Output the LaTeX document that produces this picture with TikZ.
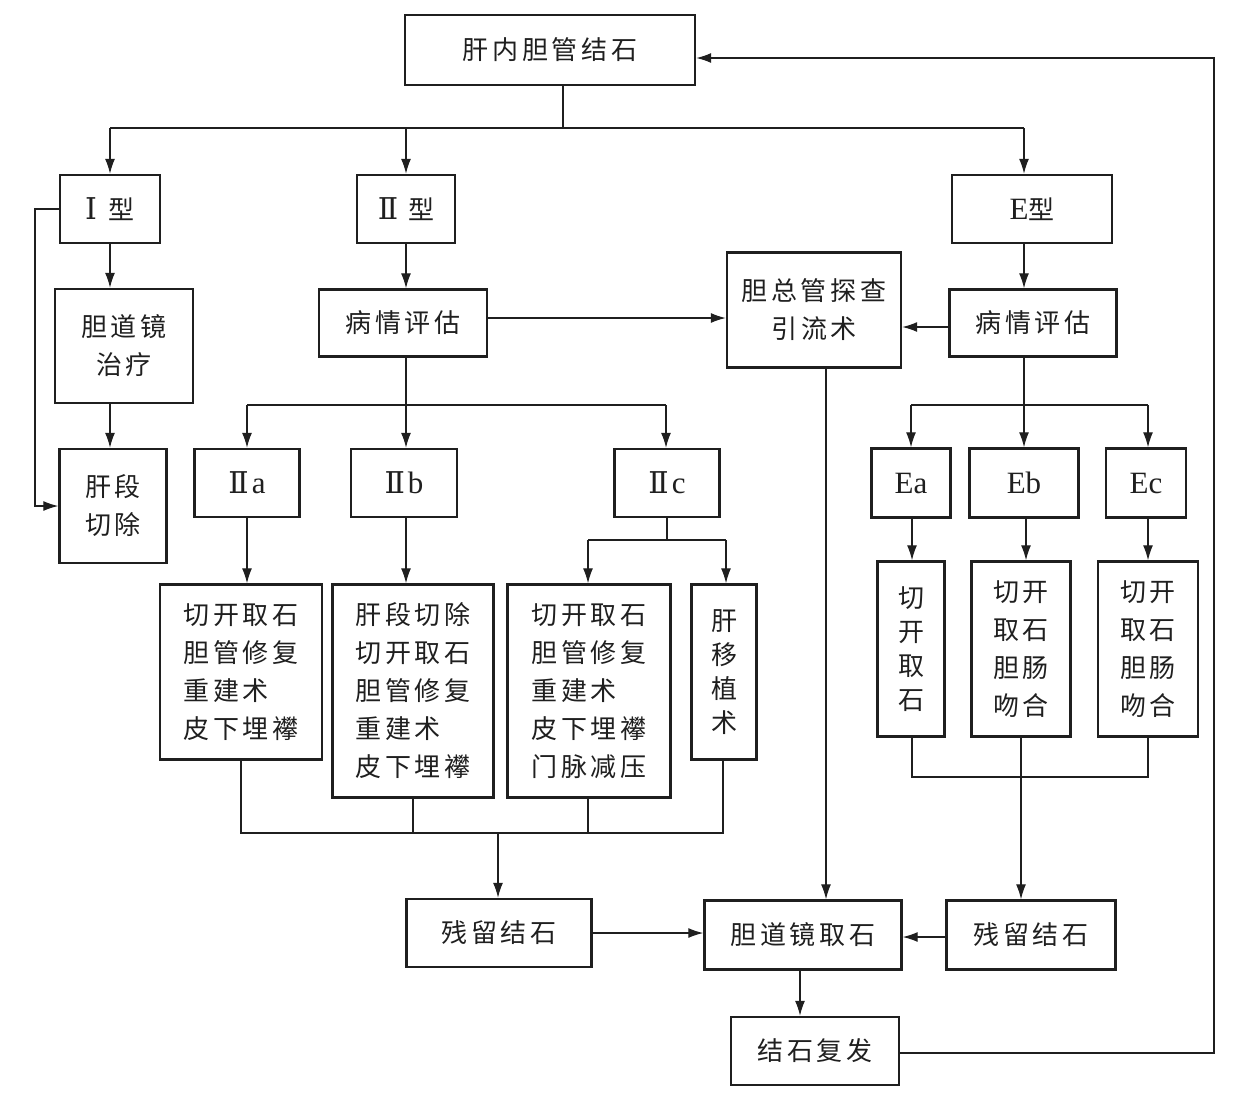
\documentclass[tikz,border=0pt]{standalone}
\usepackage{fontspec}
\setmainfont{Liberation Serif}
\newfontfamily\cjk{Noto Sans CJK SC}[LetterSpace=15]
\newfontfamily\lat{Liberation Serif}
\newfontfamily\rom{DejaVu Serif}
\newcommand{\romn}[1]{{\rom\fontsize{30}{36}\selectfont #1}}
\newcommand{\latn}[1]{{\lat\fontsize{31}{36}\selectfont #1}}
\usetikzlibrary{arrows.meta}
\begin{document}
\begin{tikzpicture}[x=1pt,y=-1pt,
  box/.style={draw=black!88, line width=2.4pt, inner sep=0pt, text=black!88,
    font=\cjk\fontsize{26}{38}\selectfont, align=center},
  vbox/.style={box, font=\cjk\fontsize{26}{34}\selectfont},
  lbox/.style={box, align=left},
  conn/.style={line width=1.3pt, draw=black!88},
  arr/.style={conn, -{Latex[length=15pt,width=10pt]}},
  latin/.style={font=\lat\fontsize{31}{36}\selectfont}]
\useasboundingbox (0,0) rectangle (1246,1098);

% nodes
\node[box, minimum width=290pt, minimum height=70pt] (top) at (550,50) {肝内胆管结石};
\node[box, minimum width=100pt, minimum height=68pt] (t1) at (110,209) {\romn{Ⅰ}\hspace{12pt}型};
\node[box, minimum width=98pt, minimum height=68pt] (t2) at (406,209) {\romn{Ⅱ}\hspace{10pt}型};
\node[box, minimum width=160pt, minimum height=68pt] (tE) at (1032,209) {\latn{E}型};
\node[box, minimum width=138pt, minimum height=114pt] (endo) at (124,346) {胆道镜\\治疗};
\node[box, minimum width=107pt, minimum height=114pt] (seg) at (113,506) {肝段\\切除};
\node[box, minimum width=168pt, minimum height=67pt] (eval2) at (403,323) {病情评估};
\node[box, minimum width=174pt, minimum height=115pt] (cbd) at (814,310) {胆总管探查\\引流术};
\node[box, minimum width=167pt, minimum height=67pt] (evalE) at (1033,323) {病情评估};
\node[box, minimum width=105pt, minimum height=68pt] (IIa) at (247,483) {\romn{Ⅱ}\hspace{3pt}\latn{a}};
\node[box, minimum width=106pt, minimum height=68pt] (IIb) at (404,483) {\romn{Ⅱ}\hspace{3pt}\latn{b}};
\node[box, minimum width=105pt, minimum height=68pt] (IIc) at (667,483) {\romn{Ⅱ}\hspace{3pt}\latn{c}};
\node[lbox, minimum width=162pt, minimum height=175pt] (A) at (241,672) {切开取石\\胆管修复\\重建术\\皮下埋襻};
\node[lbox, minimum width=161pt, minimum height=213pt] (B) at (413,691) {肝段切除\\切开取石\\胆管修复\\重建术\\皮下埋襻};
\node[lbox, minimum width=163pt, minimum height=213pt] (C) at (589,691) {切开取石\\胆管修复\\重建术\\皮下埋襻\\门脉减压};
\node[vbox, minimum width=65pt, minimum height=175pt] (D) at (724,672) {肝\\移\\植\\术};
\node[box, latin, minimum width=79pt, minimum height=69pt] (Ea) at (911,483) {Ea};
\node[box, latin, minimum width=109pt, minimum height=69pt] (Eb) at (1024,483) {Eb};
\node[box, latin, minimum width=80pt, minimum height=69pt] (Ec) at (1146,483) {Ec};
\node[vbox, minimum width=67pt, minimum height=175pt] (Ea2) at (911,649) {切\\开\\取\\石};
\node[box, minimum width=99pt, minimum height=175pt] (Eb2) at (1021,649) {切开\\取石\\胆肠\\吻合};
\node[box, minimum width=100pt, minimum height=175pt] (Ec2) at (1148,649) {切开\\取石\\胆肠\\吻合};
\node[box, minimum width=185pt, minimum height=68pt] (res1) at (499,933) {残留结石};
\node[box, minimum width=197pt, minimum height=69pt] (scope) at (803,935) {胆道镜取石};
\node[box, minimum width=169pt, minimum height=69pt] (res2) at (1031,935) {残留结石};
\node[box, minimum width=168pt, minimum height=68pt] (rec) at (815,1051) {结石复发};

% junction coordinates
\coordinate (j0) at (563,128);
\coordinate (j0L) at (110,128);
\coordinate (j0M) at (406,128);
\coordinate (j0R) at (1024,128);
\coordinate (jb) at (35,209);
\coordinate (j2) at (406,405);
\coordinate (j2L) at (247,405);
\coordinate (j2R) at (666,405);
\coordinate (jc) at (667,540);
\coordinate (jcL) at (588,540);
\coordinate (jcR) at (726,540);
\coordinate (jm) at (498,833);
\coordinate (jmL) at (241,833);
\coordinate (jmR) at (723,833);
\coordinate (jE) at (1024,405);
\coordinate (jEL) at (911,405);
\coordinate (jER) at (1148,405);
\coordinate (je) at (1021,777);
\coordinate (jeL) at (912,777);
\coordinate (jeR) at (1148,777);
\coordinate (jr) at (1214,58);

% top split
\draw[conn] (top.south -| j0) -- (j0);
\draw[conn] (j0L) -- (j0R);
\draw[arr] (j0L) -- (t1.north);
\draw[arr] (j0M) -- (t2.north);
\draw[arr] (j0R) -- (j0R |- tE.north);

% type I
\draw[arr] (t1.south) -- (t1.south |- endo.north);
\draw[arr] (t1.south |- endo.south) -- (t1.south |- seg.north);
\draw[arr] (t1.west) -- (jb) |- (seg.west);

% type II
\draw[arr] (t2.south) -- (t2.south |- eval2.north);
\draw[arr] (eval2.east |- 0,318) -- (cbd.west |- 0,318);
\draw[conn] (j2 |- eval2.south) -- (j2);
\draw[conn] (j2L) -- (j2R);
\draw[arr] (j2L) -- (j2L |- IIa.north);
\draw[arr] (j2) -- (j2 |- IIb.north);
\draw[arr] (j2R) -- (j2R |- IIc.north);
\draw[arr] (j2L |- IIa.south) -- (j2L |- A.north);
\draw[arr] (j2 |- IIb.south) -- (j2 |- B.north);
\draw[conn] (IIc.south) -- (jc);
\draw[conn] (jcL) -- (jcR);
\draw[arr] (jcL) -- (jcL |- C.north);
\draw[arr] (jcR) -- (jcR |- D.north);
\draw[conn] (jmL |- A.south) -- (jmL) -- (jmR) -- (jmR |- D.south);
\draw[conn] (413,0 |- B.south) -- (413,0 |- jm);
\draw[conn] (588,0 |- C.south) -- (588,0 |- jm);
\draw[arr] (jm) -- (jm |- res1.north);

% type E
\draw[arr] (j0R |- tE.south) -- (j0R |- evalE.north);
\draw[arr] (evalE.west |- 0,327) -- (cbd.east |- 0,327);
\draw[conn] (jE |- evalE.south) -- (jE);
\draw[conn] (jEL) -- (jER);
\draw[arr] (jEL) -- (jEL |- Ea.north);
\draw[arr] (jE) -- (jE |- Eb.north);
\draw[arr] (jER) -- (jER |- Ec.north);
\draw[arr] (jeL |- Ea.south) -- (jeL |- Ea2.north);
\draw[arr] (1026,0 |- Eb.south) -- (1026,0 |- Eb2.north);
\draw[arr] (jeR |- Ec.south) -- (jeR |- Ec2.north);
\draw[conn] (jeL |- Ea2.south) -- (jeL) -- (jeR) -- (jeR |- Ec2.south);
\draw[conn] (je |- Eb2.south) -- (je);
\draw[arr] (je) -- (je |- res2.north);

% bottom
\draw[arr] (826,0 |- cbd.south) -- (826,0 |- scope.north);
\draw[arr] (res1.east) -- (scope.west |- res1.east);
\draw[arr] (res2.west |- 0,937) -- (scope.east |- 0,937);
\draw[arr] (800,0 |- scope.south) -- (800,0 |- rec.north);
\draw[arr] (rec.east |- 0,1053) -| (jr) -- (top.east |- jr);
\end{tikzpicture}
\end{document}
